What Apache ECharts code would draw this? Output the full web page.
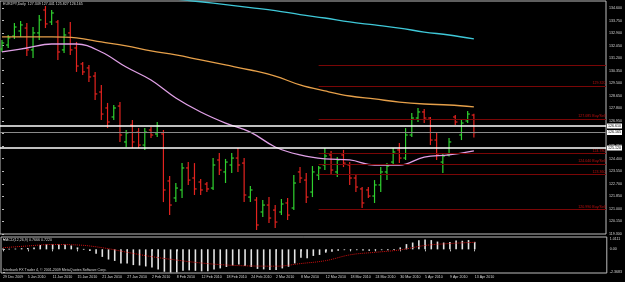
<!DOCTYPE html>
<html>
<head>
<meta charset="utf-8">
<script src="https://cdn.jsdelivr.net/npm/echarts@6/dist/echarts.min.js"></script>
<style>
  html, body { margin: 0; padding: 0; background: #000; }
  #chart { width: 625px; height: 282px; }
</style>
</head>
<body>
<div id="chart"></div>
<script>
// EURJPY daily, 29 Dec 2009 - 13 Apr 2010 (one bar per trading day)
const dateLabels = ['29 Dec 2009', '5 Jan 2010', '11 Jan 2010', '15 Jan 2010', '21 Jan 2010',
    '27 Jan 2010', '2 Feb 2010', '8 Feb 2010', '12 Feb 2010', '18 Feb 2010', '24 Feb 2010',
    '2 Mar 2010', '8 Mar 2010', '12 Mar 2010', '18 Mar 2010', '24 Mar 2010', '30 Mar 2010',
    '5 Apr 2010', '9 Apr 2010', '13 Apr 2010'];

const opens = [131.82, 132.09, 132.70, 133.04, 133.24, 131.76, 132.91, 134.46, 133.65, 133.65,
    131.76, 132.91, 131.89, 130.81, 130.54, 129.99, 128.91, 127.83, 127.22, 127.96,
    125.53, 126.68, 126.20, 125.32, 126.34, 126.07, 126.07, 122.89, 121.74, 122.28,
    123.77, 123.09, 122.82, 122.68, 122.41, 124.31, 123.50, 123.97, 124.44, 124.10,
    121.80, 121.60, 120.79, 121.26, 120.92, 120.79, 121.40, 121.06, 123.50, 122.95,
    122.14, 123.29, 123.97, 124.65, 123.50, 124.65, 123.97, 123.09, 122.35, 122.28,
    121.87, 122.62, 123.50, 124.17, 124.99, 124.44, 126.00, 127.15, 127.56, 127.15,
    125.66, 124.17, 124.65, 127.22, 126.00, 126.95, 127.349];
const highs = [132.43, 132.77, 133.58, 133.72, 133.58, 133.31, 134.13, 134.73, 134.46, 133.79,
    133.24, 133.65, 132.30, 130.94, 130.74, 130.27, 129.39, 128.17, 128.03, 128.23,
    126.34, 127.02, 126.47, 126.47, 126.54, 126.88, 126.34, 123.22, 122.75, 124.10,
    124.17, 124.10, 123.02, 122.82, 124.44, 124.78, 124.38, 124.78, 125.12, 124.44,
    122.55, 121.80, 121.60, 121.80, 121.26, 121.67, 121.74, 123.29, 123.83, 123.43,
    123.90, 123.90, 125.12, 124.92, 124.51, 124.99, 124.17, 123.29, 122.48, 122.48,
    122.95, 123.83, 124.10, 125.12, 125.46, 126.47, 127.49, 127.83, 127.76, 127.22,
    126.14, 124.78, 125.80, 127.35, 127.02, 127.62, 127.441];
const lows = [131.62, 131.89, 132.50, 132.64, 131.35, 131.21, 132.43, 133.24, 133.45, 131.08,
    131.55, 131.42, 130.27, 130.06, 129.59, 128.37, 127.02, 126.47, 127.02, 125.53,
    125.19, 125.12, 125.12, 124.99, 125.80, 125.87, 121.46, 120.58, 121.46, 121.74,
    122.62, 121.94, 121.94, 122.14, 122.28, 123.29, 122.75, 123.43, 123.50, 121.46,
    121.46, 119.57, 120.45, 120.04, 119.70, 120.58, 120.25, 120.92, 122.75, 121.40,
    121.80, 122.95, 123.63, 123.29, 123.16, 123.83, 122.62, 122.14, 121.06, 121.74,
    121.40, 122.14, 122.95, 123.97, 124.10, 124.31, 125.87, 126.88, 126.81, 125.32,
    124.31, 123.43, 124.55, 126.68, 125.66, 126.81, 125.827];
const closes = [132.23, 132.57, 133.31, 133.45, 131.76, 132.91, 133.79, 133.52, 134.26, 131.62,
    132.77, 131.76, 130.67, 130.27, 129.93, 128.78, 127.42, 126.88, 127.83, 126.00,
    126.14, 125.53, 125.32, 126.20, 126.00, 126.61, 122.28, 121.26, 122.41, 123.77,
    122.95, 122.35, 122.28, 122.35, 123.97, 123.63, 124.17, 124.44, 123.97, 121.94,
    122.28, 119.91, 121.26, 120.38, 120.11, 121.33, 120.58, 122.75, 123.09, 121.80,
    123.50, 123.77, 124.58, 123.63, 124.31, 124.10, 123.09, 122.48, 121.40, 121.87,
    122.62, 123.50, 123.90, 124.85, 124.44, 126.00, 127.15, 127.56, 127.15, 125.66,
    124.65, 124.58, 125.53, 126.88, 126.81, 127.42, 126.165];

// moving averages, read every 4th bar
const maIdx = [0, 4, 8, 12, 16, 20, 24, 28, 32, 36, 40, 44, 48, 52, 56, 60, 64, 68, 72, 76];
const orangeMA = [132.64, 132.64, 132.64, 132.57, 132.30, 132.03, 131.69, 131.42, 131.08, 130.74,
    130.40, 129.99, 129.39, 128.98, 128.64, 128.44, 128.23, 128.10, 128.03, 127.90];
const violetMA = [131.62, 131.89, 132.16, 132.16, 131.62, 130.60, 129.72, 128.51, 127.56, 126.81,
    126.20, 125.19, 124.65, 124.38, 124.31, 123.97, 123.97, 124.51, 124.65, 124.92];
const cyanIdx = [20, 24, 28, 32, 36, 40, 44, 48, 52, 56, 60, 64, 68, 72, 76];
const cyanMA = [135.65, 135.42, 135.20, 135.02, 134.82, 134.62, 134.42, 134.15, 133.92, 133.65,
    133.45, 133.24, 132.97, 132.77, 132.50];

// MACD(12,26,9)
const macdMain = [0.08, 0.06, 0.08, 0.12, 0.15, 0.2, 0.45, 0.5, 0.5, 0.5,
    0.5, 0.4, 0.2, 0.05, -0.17, -0.44, -0.77, -1.04, -1.18, -1.44,
    -1.44, -1.61, -1.65, -1.75, -1.85, -2.05, -2.29, -2.37, -2.35, -2.2,
    -2.15, -2.2, -2.25, -2.25, -2.05, -1.95, -1.8, -1.65, -1.55, -1.7,
    -1.8, -2.0, -2.05, -2.1, -2.1, -1.95, -1.78, -1.44, -0.85, -0.9,
    -0.67, -0.57, -0.34, -0.24, -0.13, -0.07, -0.02, -0.05, -0.12, -0.15,
    -0.1, -0.05, 0.0, 0.05, 0.2, 0.54, 0.7, 0.94, 1.0111, 0.95,
    0.8, 0.7, 0.75, 0.9, 0.88, 0.95, 0.7666];
const signalVals = [0.17, 0.35, 0.5, 0.45, 0.17, -0.3, -0.75, -1.1, -1.4, -1.6,
    -1.7, -1.72, -1.45, -1.15, -0.55, -0.3, -0.05, 0.4, 0.6, 0.722];

// axis ticks
const priceTicks = [134.6, 133.75, 132.9, 132.05, 131.2, 130.35, 129.5, 128.65, 127.8, 126.95,
    126.1, 125.25, 124.4, 123.55, 122.7, 121.85, 121.0, 120.15, 119.3];
const macdTicks = [1.0111, 0, -2.3683];

// horizontal levels
const whiteLevels = [126.61, 125.12];
const bidPrice = 126.165;
const redLevels = [130.74, 129.32, 127.085, 124.78, 124.04, 123.36, 120.99];
const redNotes = ['', '', ' Buy/Sell', '', ' Buy/Sell', '', ' Buy/Sell'];
const redStart = 51;

const xMin = -0.32, xMax = 97.28;
const bullColor = '#2fd12f', bearColor = '#e3231f';
const textColor = '#d8d8d8';
const tinyFont = 3.6;

let myChart = echarts.init(document.getElementById('chart'), null, {renderer: 'canvas'});

function renderOhlc(params, api) {
    let i = api.value(0);
    let o = api.coord([i, api.value(1)]);
    let h = api.coord([i, api.value(2)]);
    let l = api.coord([i, api.value(3)]);
    let c = api.coord([i, api.value(4)]);
    let color = api.value(4) >= api.value(1) ? bullColor : bearColor;
    let st = {stroke: color, lineWidth: 1.2};
    return {
        type: 'group',
        children: [
            {type: 'line', shape: {x1: h[0], y1: h[1], x2: l[0], y2: l[1]}, style: st},
            {type: 'line', shape: {x1: o[0] - 2.2, y1: o[1], x2: o[0], y2: o[1]}, style: st},
            {type: 'line', shape: {x1: c[0], y1: c[1], x2: c[0] + 2.2, y2: c[1]}, style: st}
        ]
    };
}

function renderHist(params, api) {
    let i = api.value(0);
    let a = api.coord([i, 0]);
    let b = api.coord([i, api.value(1)]);
    return {
        type: 'rect',
        shape: {x: a[0] - 0.8, y: Math.min(a[1], b[1]), width: 1.6, height: Math.max(Math.abs(b[1] - a[1]), 0.8)},
        style: {fill: '#e4e4e4'}
    };
}

let boxLabel = function (v) {
    return {
        show: true, position: 'end', distance: 1,
        backgroundColor: '#fff', color: '#000', fontSize: tinyFont,
        fontFamily: 'Liberation Sans', padding: [0.5, 1],
        formatter: v.toFixed(3)
    };
};

let markData = [];
whiteLevels.forEach((v) => {
    markData.push({yAxis: v, lineStyle: {color: '#ffffff', width: 1.6, type: 'solid'}, label: boxLabel(v)});
});
markData.push({yAxis: bidPrice, lineStyle: {color: '#8a8a8a', width: 1, type: 'solid'}, label: boxLabel(bidPrice)});
redLevels.forEach((v, k) => {
    markData.push([
        {
            coord: [redStart, v],
            lineStyle: {color: '#7a0606', width: 1, type: 'solid'},
            label: {
                show: k > 0,
                position: 'insideEndTop', distance: 0.5,
                color: '#c01010', fontSize: tinyFont, fontFamily: 'Liberation Sans',
                formatter: v.toFixed(3) + redNotes[k]
            }
        },
        {coord: [xMax, v]}
    ]);
});

let option = {
    backgroundColor: '#000',
    animation: false,
    textStyle: {fontFamily: 'Liberation Sans'},
    grid: [
        {left: 0, top: 1, width: 610, height: 233, show: true, borderColor: '#bdbdbd', borderWidth: 1},
        {left: 0, top: 237, width: 610, height: 36, show: true, borderColor: '#bdbdbd', borderWidth: 1}
    ],
    xAxis: [
        {gridIndex: 0, type: 'value', min: xMin, max: xMax, show: false},
        {
            gridIndex: 1, type: 'value', min: xMin, max: xMax,
            splitLine: {show: false},
            axisLine: {show: false},
            axisTick: {show: true, customValues: dateLabels.map((d, k) => k * 4), length: 2, lineStyle: {color: '#bdbdbd'}},
            axisLabel: {
                customValues: dateLabels.map((d, k) => k * 4),
                formatter: (v) => dateLabels[Math.round(v / 4)],
                align: 'left', margin: 2, fontSize: tinyFont, color: textColor
            }
        }
    ],
    yAxis: [
        {
            gridIndex: 0, type: 'value', position: 'right', min: 119.3, max: 135.07,
            splitLine: {show: false},
            axisLine: {show: false},
            axisTick: {show: true, customValues: priceTicks, length: 2, lineStyle: {color: '#bdbdbd'}},
            axisLabel: {customValues: priceTicks, formatter: (v) => v.toFixed(3), margin: 3, fontSize: tinyFont, color: textColor}
        },
        {
            gridIndex: 1, type: 'value', position: 'right', min: -2.42, max: 1.267,
            splitLine: {show: false},
            axisLine: {show: false},
            axisTick: {show: true, customValues: macdTicks, length: 2, lineStyle: {color: '#bdbdbd'}},
            axisLabel: {
                customValues: macdTicks,
                formatter: (v) => (v === 0 ? '0.00' : v.toFixed(4)),
                margin: 3, fontSize: tinyFont, color: textColor
            }
        }
    ],
    series: [
        {
            type: 'line', xAxisIndex: 0, yAxisIndex: 0, showSymbol: false, smooth: 0.4, clip: true,
            data: cyanIdx.map((i, k) => [i, cyanMA[k]]),
            lineStyle: {color: '#3fc8d8', width: 1.3}
        },
        {
            type: 'line', xAxisIndex: 0, yAxisIndex: 0, showSymbol: false, smooth: 0.4,
            data: maIdx.map((i, k) => [i, orangeMA[k]]),
            lineStyle: {color: '#e6a04a', width: 1.3}
        },
        {
            type: 'line', xAxisIndex: 0, yAxisIndex: 0, showSymbol: false, smooth: 0.4,
            data: maIdx.map((i, k) => [i, violetMA[k]]),
            lineStyle: {color: '#e0a0e6', width: 1.3}
        },
        {
            type: 'custom', xAxisIndex: 0, yAxisIndex: 0,
            renderItem: renderOhlc,
            encode: {x: 0, y: [1, 2, 3, 4]},
            data: opens.map((o, i) => [i, o, highs[i], lows[i], closes[i]]),
            markLine: {silent: true, symbol: ['none', 'none'], data: markData}
        },
        {
            type: 'custom', xAxisIndex: 1, yAxisIndex: 1,
            renderItem: renderHist,
            encode: {x: 0, y: 1},
            data: macdMain.map((v, i) => [i, v])
        },
        {
            type: 'line', xAxisIndex: 1, yAxisIndex: 1, showSymbol: false, smooth: 0.4,
            data: maIdx.map((i, k) => [i, signalVals[k]]),
            lineStyle: {color: '#d01010', width: 1, type: 'dotted'}
        }
    ],
    graphic: [
        {type: 'text', left: 3, top: 2, style: {text: 'EURJPY,Daily  127.349 127.441 125.827 126.165', fill: textColor, fontSize: tinyFont, fontFamily: 'Liberation Sans'}},
        {type: 'text', left: 3, top: 238, style: {text: 'MACD(12,26,9) 0.7666 0.7220', fill: textColor, fontSize: tinyFont, fontFamily: 'Liberation Sans'}},
        {type: 'text', left: 3, top: 268, style: {text: 'Interbank FX Trader 4, \u00a9 2001-2009 MetaQuotes Software Corp.', fill: textColor, fontSize: tinyFont, fontFamily: 'Liberation Sans'}}
    ]
};
myChart.setOption(option);
</script>
</body>
</html>
